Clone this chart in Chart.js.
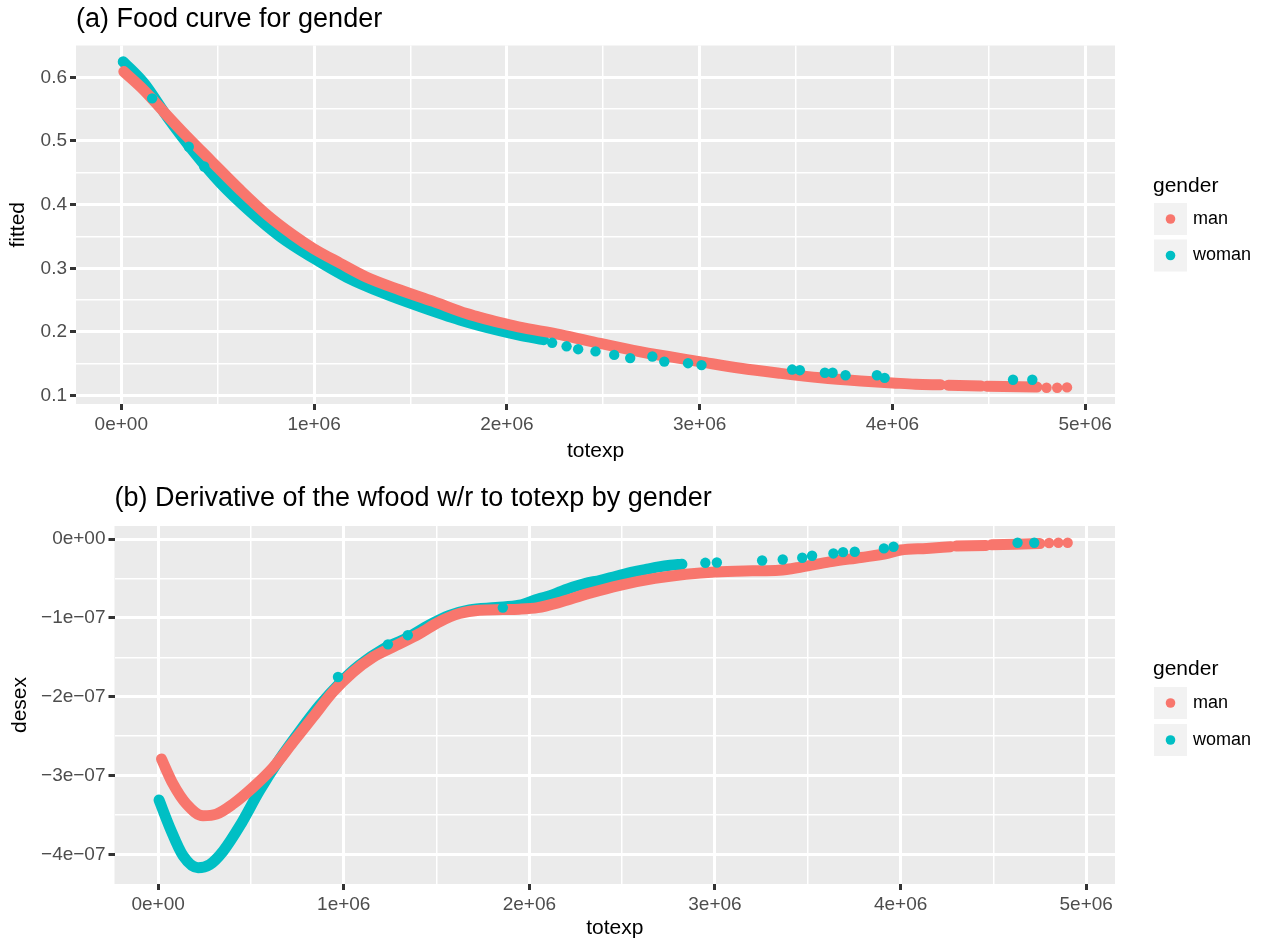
<!DOCTYPE html>
<html>
<head>
<meta charset="utf-8">
<title>Food curve and derivative by gender</title>
<script src="https://cdn.jsdelivr.net/npm/chart.js@4.4.1/dist/chart.umd.min.js"></script>
<style>
  html, body { margin: 0; padding: 0; background: #fff; }
  #wrap { position: relative; width: 1265px; height: 943px; }
  .panel { position: absolute; left: 0; width: 1265px; }
  #panelA { top: 0; height: 470px; }
  #panelB { top: 470px; height: 473px; }
</style>
</head>
<body>
<div id="wrap">
  <div class="panel" id="panelA"><canvas id="chartA"></canvas></div>
  <div class="panel" id="panelB"><canvas id="chartB"></canvas></div>
</div>
<script>
// values
// totexp is in millions, desex is in units of 1e-07
// null entries break the band where the points have gaps

const genders = ['man', 'woman'];
const genderColors = ['#F8766D', '#00BFC4'];
const legendTitle = 'gender';

const xTicks = [0, 1, 2, 3, 4, 5];
const xTickLabels = ['0e+00', '1e+06', '2e+06', '3e+06', '4e+06', '5e+06'];

// (a) fitted food share
const yTicksA = [0.1, 0.2, 0.3, 0.4, 0.5, 0.6];
const yTickLabelsA = ['0.1', '0.2', '0.3', '0.4', '0.5', '0.6'];

const manBandXA = [0.013, 0.117, 0.22, 0.341, 0.462, 0.617, 0.756, 0.893, 0.997, 1.135, 1.273, 1.446, 1.618, 1.791, 1.86, 1.96, 2.06, 2.277, 2.484, 2.692, 3.0, 3.212, 3.42, 3.628, 3.836, 3.94, 4.0, 4.12, 4.25, null, 4.29, 4.46, null, 4.49, 4.75];
const manBandYA = [0.609, 0.580, 0.546, 0.507, 0.470, 0.423, 0.384, 0.352, 0.331, 0.308, 0.286, 0.266, 0.248, 0.229, 0.223, 0.215, 0.208, 0.196, 0.182, 0.169, 0.1535, 0.143, 0.135, 0.128, 0.123, 0.121, 0.120, 0.118, 0.117, null, 0.1165, 0.115, null, 0.1148, 0.1135];
const manDotsXA = [4.80, 4.855, 4.906];
const manDotsYA = [0.1125, 0.1125, 0.113];

const womanBandXA = [0.01, 0.117, 0.238, 0.376, 0.514, 0.669, 0.824, 0.997, 1.17, 1.36, 1.549, 1.756, 1.963, 2.058, 2.19];
const womanBandYA = [0.6245, 0.591, 0.538, 0.483, 0.434, 0.389, 0.350, 0.316, 0.286, 0.261, 0.240, 0.219, 0.202, 0.1955, 0.188];
const womanDotsXA = [0.16, 0.35, 0.43, 2.235, 2.31, 2.37, 2.46, 2.557, 2.64, 2.755, 2.817, 2.94, 3.01, 3.48, 3.52, 3.65, 3.69, 3.757, 3.92, 3.96, 4.626, 4.726];
const womanDotsYA = [0.567, 0.491, 0.460, 0.183, 0.1775, 0.173, 0.1695, 0.164, 0.159, 0.1615, 0.1535, 0.151, 0.148, 0.141, 0.140, 0.136, 0.136, 0.132, 0.132, 0.128, 0.125, 0.125];

// (b) derivative of wfood w.r.t. totexp
const yTicksB = [-4, -3, -2, -1, 0];
const yTickLabelsB = ['\u22124e\u221207', '\u22123e\u221207', '\u22122e\u221207', '\u22121e\u221207', '0e+00'];

const manBandXB = [0.018, 0.081, 0.152, 0.242, 0.314, 0.404, 0.511, 0.619, 0.726, 0.834, 0.942, 1.049, 1.157, 1.283, 1.408, 1.516, 1.623, 1.731, 1.857, 1.946, 2.045, 2.153, 2.32, 2.487, 2.676, 2.843, 3.0, 3.2, 3.345, 3.47, 3.617, 3.785, 3.93, 4.0, 4.14, 4.27, null, 4.30, 4.46, null, 4.49, 4.75];
const manBandYB = [-2.79, -3.11, -3.36, -3.51, -3.49, -3.36, -3.15, -2.90, -2.58, -2.26, -1.94, -1.69, -1.50, -1.35, -1.20, -1.05, -0.946, -0.903, -0.895, -0.89, -0.87, -0.81, -0.69, -0.587, -0.50, -0.447, -0.417, -0.404, -0.396, -0.353, -0.29, -0.234, -0.183, -0.14, -0.119, -0.098, null, -0.09, -0.081, null, -0.072, -0.058];
const manDotsXB = [4.80, 4.85, 4.90];
const manDotsYB = [-0.05, -0.048, -0.047];

const womanBandXB = [0.005, 0.063, 0.135, 0.215, 0.278, 0.35, 0.44, 0.547, 0.655, 0.762, 0.87, 0.978, 1.085, 1.211, 1.336, 1.462, 1.57, 1.677, 1.82, 1.946, 2.048, 2.111, 2.163, 2.236, 2.299, 2.383, 2.467, 2.561, 2.634, 2.697, 2.759, 2.822];
const womanBandYB = [-3.31, -3.66, -4.02, -4.17, -4.13, -3.96, -3.64, -3.19, -2.79, -2.44, -2.11, -1.83, -1.60, -1.40, -1.26, -1.09, -0.97, -0.90, -0.87, -0.84, -0.76, -0.72, -0.672, -0.609, -0.566, -0.523, -0.472, -0.417, -0.383, -0.353, -0.332, -0.319];
const womanDotsXB = [0.969, 1.238, 1.345, 1.857, 2.948, 3.01, 3.254, 3.365, 3.47, 3.523, 3.638, 3.69, 3.753, 3.91, 3.962, 4.63, 4.72];
const womanDotsYB = [-1.75, -1.336, -1.22, -0.87, -0.302, -0.298, -0.272, -0.26, -0.238, -0.213, -0.183, -0.166, -0.162, -0.119, -0.098, -0.047, -0.047];

const FONT = "'Liberation Sans', Arial, Helvetica, sans-serif";
Chart.defaults.font.family = FONT;

function toPoints(xs, ys) {
    return xs.map((x, i) => ({ x: x, y: ys[i] }));
}

function majorIndex(majors, v) {
    return majors.findIndex(m => Math.abs(m - v) < 1e-9);
}

// majors plus the minor breaks halfway between them
function withMinors(majors) {
    const out = [];
    majors.forEach((m, i) => {
        out.push(m);
        if (i < majors.length - 1) out.push((m + majors[i + 1]) / 2);
    });
    return out.sort((a, b) => a - b);
}

function band(xs, ys, color) {
    return {
        data: toPoints(xs, ys),
        showLine: true,
        borderColor: color,
        borderWidth: 11,
        borderCapStyle: 'round',
        borderJoinStyle: 'round',
        cubicInterpolationMode: 'monotone',
        pointRadius: 0,
        pointHoverRadius: 0,
        spanGaps: false
    };
}

function dots(xs, ys, color) {
    return {
        data: toPoints(xs, ys),
        showLine: false,
        pointRadius: 5.2,
        pointHoverRadius: 5.2,
        pointBorderWidth: 0,
        pointBackgroundColor: color,
        borderColor: color
    };
}

function axis(o) {
    const isMajor = c => c.tick ? majorIndex(o.majors, c.tick.value) >= 0 : true;
    return {
        type: 'linear',
        min: o.min,
        max: o.max,
        afterBuildTicks(scale) {
            scale.ticks = withMinors(o.majors).map(v => ({ value: v }));
        },
        afterFit(scale) {
            if (o.width) scale.width = o.width;
            if (o.height) scale.height = o.height;
        },
        border: { display: false },
        grid: {
            color: '#FFFFFF',
            lineWidth: c => isMajor(c) ? 3 : 1.5,
            drawTicks: true,
            tickLength: 6,
            tickWidth: 3,
            tickColor: c => isMajor(c) ? '#333333' : 'rgba(0,0,0,0)'
        },
        ticks: {
            autoSkip: false,
            maxRotation: 0,
            minRotation: 0,
            padding: 3,
            color: '#4D4D4D',
            font: { size: 19 },
            callback: v => {
                const i = majorIndex(o.majors, v);
                return i >= 0 ? o.labels[i] : '';
            }
        },
        title: {
            display: true,
            text: o.title,
            color: '#000000',
            font: { size: 21 },
            padding: o.titlePadding
        }
    };
}

// grey panel behind the grid
const panelBackground = {
    id: 'panelBackground',
    beforeDraw(chart) {
        const { ctx, chartArea: a } = chart;
        ctx.save();
        ctx.fillStyle = '#EBEBEB';
        ctx.fillRect(a.left, a.top, a.right - a.left, a.bottom - a.top);
        ctx.restore();
    }
};

// title aligned with the panel's left edge
const panelTitle = {
    id: 'panelTitle',
    afterDraw(chart, args, opts) {
        const { ctx, chartArea } = chart;
        ctx.save();
        ctx.font = '27px ' + FONT;
        ctx.fillStyle = '#000000';
        ctx.textAlign = 'left';
        ctx.textBaseline = 'middle';
        ctx.fillText(opts.text, chartArea.left, opts.y);
        ctx.restore();
    }
};

// ggplot style legend with grey key boxes
const genderLegend = {
    id: 'genderLegend',
    afterDraw(chart, args, opts) {
        const ctx = chart.ctx;
        ctx.save();
        ctx.textAlign = 'left';
        ctx.textBaseline = 'middle';
        ctx.fillStyle = '#000000';
        ctx.font = '21px ' + FONT;
        ctx.fillText(legendTitle, opts.x, opts.titleY);
        genders.forEach((g, i) => {
            const cy = opts.rowY[i];
            ctx.fillStyle = '#F2F2F2';
            ctx.fillRect(opts.x + 1, cy - 16, 33, 32);
            ctx.beginPath();
            ctx.arc(opts.x + 17.5, cy, 4.8, 0, Math.PI * 2);
            ctx.fillStyle = genderColors[i];
            ctx.fill();
            ctx.fillStyle = '#000000';
            ctx.font = '18px ' + FONT;
            ctx.fillText(g, opts.x + 40, cy);
        });
        ctx.restore();
    }
};

function makeChart(id, cfg) {
    return new Chart(document.getElementById(id), {
        type: 'scatter',
        data: { datasets: cfg.datasets },
        options: {
            responsive: true,
            maintainAspectRatio: false,
            animation: false,
            layout: { padding: { left: 0, right: 150, top: cfg.top, bottom: 0 } },
            scales: { x: cfg.x, y: cfg.y },
            plugins: {
                legend: { display: false },
                tooltip: { enabled: false },
                panelTitle: cfg.title,
                genderLegend: cfg.legend
            }
        },
        plugins: [panelBackground, panelTitle, genderLegend]
    });
}

// first dataset is drawn on top
const chartA = makeChart('chartA', {
    top: 45.5,
    datasets: [
        dots(womanDotsXA, womanDotsYA, genderColors[1]),
        dots(manDotsXA, manDotsYA, genderColors[0]),
        band(manBandXA, manBandYA, genderColors[0]),
        band(womanBandXA, womanBandYA, genderColors[1])
    ],
    x: axis({ min: -0.235, max: 5.155, majors: xTicks, labels: xTickLabels, height: 66,
              title: 'totexp', titlePadding: { top: 0, bottom: 6.5 } }),
    y: axis({ min: 0.0869, max: 0.650, majors: yTicksA, labels: yTickLabelsA, width: 76,
              title: 'fitted', titlePadding: { top: 5.5, bottom: 0 } }),
    title: { text: '(a) Food curve for gender', y: 20 },
    legend: { x: 1153, titleY: 186, rowY: [219, 255.5] }
});

const chartB = makeChart('chartB', {
    top: 56,
    datasets: [
        dots(womanDotsXB, womanDotsYB, genderColors[1]),
        dots(manDotsXB, manDotsYB, genderColors[0]),
        band(manBandXB, manBandYB, genderColors[0]),
        band(womanBandXB, womanBandYB, genderColors[1])
    ],
    x: axis({ min: -0.235, max: 5.155, majors: xTicks, labels: xTickLabels, height: 59,
              title: 'totexp', titlePadding: { top: 0, bottom: 2.4 } }),
    y: axis({ min: -4.376, max: 0.165, majors: yTicksB, labels: yTickLabelsB, width: 114.5,
              title: 'desex', titlePadding: { top: 7.5, bottom: 0 } }),
    title: { text: '(b) Derivative of the wfood w/r to totexp by gender', y: 29 },
    legend: { x: 1153, titleY: 199, rowY: [233, 270] }
});
</script>
</body>
</html>
